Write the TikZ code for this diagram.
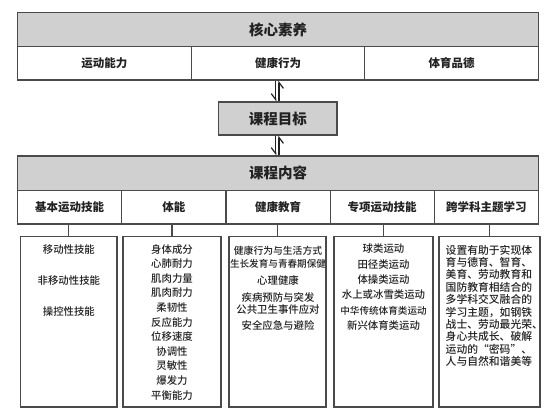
\documentclass[tikz,border=0pt]{standalone}
\usepackage{fontspec}
\setmainfont{Noto Sans CJK SC}
\newfontfamily\medfont{Noto Sans CJK SC Medium}
\usetikzlibrary{arrows.meta}
\definecolor{hdr}{HTML}{D0D0D0}
\definecolor{edge}{HTML}{4A4A4A}
\definecolor{ink}{HTML}{222222}
\tikzset{
  frame/.style={draw=edge, line width=1.2pt},
  hdrcell/.style={frame, fill=hdr, inner sep=0pt, text=ink, font=\fontsize{14.5}{17}\selectfont\bfseries},
  subcell/.style={frame, fill=white, inner sep=0pt, text=ink, font=\fontsize{11.5}{14}\selectfont\bfseries},
  listbox/.style={frame, fill=white, inner sep=0pt, minimum height=170.3pt},
  item/.style={inner sep=0pt, text=ink, text height=0.88em, text depth=0.12em, font=\fontsize{10.4}{12}\selectfont\medfont},
  smallitem/.style={item, font=\fontsize{9.6}{12}\selectfont\medfont},
  leftitem/.style={item, anchor=west, font=\fontsize{10.8}{12}\selectfont\medfont},
  harp/.style={draw=ink, line width=1.3pt},
  harptip/.style={-{Straight Barb[harpoon,swap,length=6pt,width=9pt,line width=1.2pt]}}
}
\begin{document}
\begin{tikzpicture}[x=1pt,y=-1pt]
\useasboundingbox[fill=white] (0,0) rectangle (551,412);
% core literacy
\node[hdrcell, minimum width=521pt, minimum height=34pt] (core) at (278,29.7) {核心素养};
\node[subcell, minimum width=173.67pt, minimum height=33.3pt] (c1) at (104.33,63.35) {运动能力};
\node[subcell, minimum width=173.67pt, minimum height=33.3pt] (c2) at (278,63.35) {健康行为};
\node[subcell, minimum width=173.67pt, minimum height=33.3pt] (c3) at (451.67,63.35) {体育品德};
% goals
\node[hdrcell, minimum width=118.5pt, minimum height=33pt] (goal) at (277.75,118.5) {课程目标};
% content
\node[hdrcell, minimum width=521pt, minimum height=34.7pt] (content) at (278,173.35) {课程内容};
\node[subcell, minimum width=104.2pt, minimum height=33.3pt] (r1) at (69.6,207.35) {基本运动技能};
\node[subcell, minimum width=104.2pt, minimum height=33.3pt] (r2) at (173.8,207.35) {体能};
\node[subcell, minimum width=104.2pt, minimum height=33.3pt] (r3) at (278,207.35) {健康教育};
\node[subcell, minimum width=104.2pt, minimum height=33.3pt] (r4) at (382.2,207.35) {专项运动技能};
\node[subcell, minimum width=104.2pt, minimum height=33.3pt] (r5) at (486.4,207.35) {跨学科主题学习};
% list boxes
\node[listbox, minimum width=96.3pt] (b1) at (68.85,321.85) {};
\node[listbox, minimum width=98pt] (b2) at (172,321.85) {};
\node[listbox, minimum width=97pt] (b3) at (277.5,321.85) {};
\node[listbox, minimum width=99pt] (b4) at (383.5,321.85) {};
\node[listbox, minimum width=101pt] (b5) at (489.5,321.85) {};
% connectors
\foreach \i in {1,...,5} \draw[frame] (b\i.north) -- (b\i.north |- r\i.south);
% double harpoons
\draw[harp, harptip] ([xshift=-2pt]goal.north |- c2.south) -- ([xshift=-2pt]goal.north);
\draw[harp, harptip] ([xshift=1.2pt]goal.north) -- ([xshift=1.2pt]goal.north |- c2.south);
\draw[harp, harptip] ([xshift=-2pt]goal.south) -- ([xshift=-2pt]goal.south |- content.north);
\draw[harp, harptip] ([xshift=1.2pt]goal.south |- content.north) -- ([xshift=1.2pt]goal.south);
% box 1
\node[item] (b1a) at (68.85,249.5) {移动性技能};
\node[item] (b1b) at (68.85,280.5) {非移动性技能};
\node[item] (b1c) at (68.85,312) {操控性技能};
% box 2
\foreach \t [count=\i] in {身体成分,心肺耐力,肌肉力量,肌肉耐力,柔韧性,反应能力,位移速度,协调性,灵敏性,爆发力,平衡能力}
  \node[item] (b2l\i) at (172,{249.3+14.6*(\i-1)}) {\t};
% box 3
\node[smallitem, font=\fontsize{9.8}{12}\selectfont\medfont] (b3a) at (278,251) {健康行为与生活方式};
\node[smallitem] (b3b) at (278,264) {生长发育与青春期保健};
\node[item] (b3c) at (278,280.5) {心理健康};
\node[item] (b3d) at (278,297.3) {疾病预防与突发};
\node[item] (b3e) at (278,309.3) {公共卫生事件应对};
\node[item] (b3f) at (278,325.3) {安全应急与避险};
% box 4
\foreach \t [count=\i] in {球类运动,田径类运动,体操类运动,水上或冰雪类运动}
  \node[item] (b4l\i) at (383.5,{249+15.3*(\i-1)}) {\t};
\node[smallitem] (b4l5) at (383.5,310.2) {中华传统体育类运动};
\node[item] (b4l6) at (383.5,325.5) {新兴体育类运动};
% box 5
\foreach \t [count=\i] in {设置有助于实现体,育与德育、智育、,美育、劳动教育和,国防教育相结合的,多学科交叉融合的,学习主题，如钢铁,战士、劳动最光荣、,身心共成长、破解,运动的“密码”、,人与自然和谐美等}
  \node[leftitem] (b5l\i) at (445.5,{250.3+12.4*(\i-1)}) {\t};
\end{tikzpicture}
\end{document}
